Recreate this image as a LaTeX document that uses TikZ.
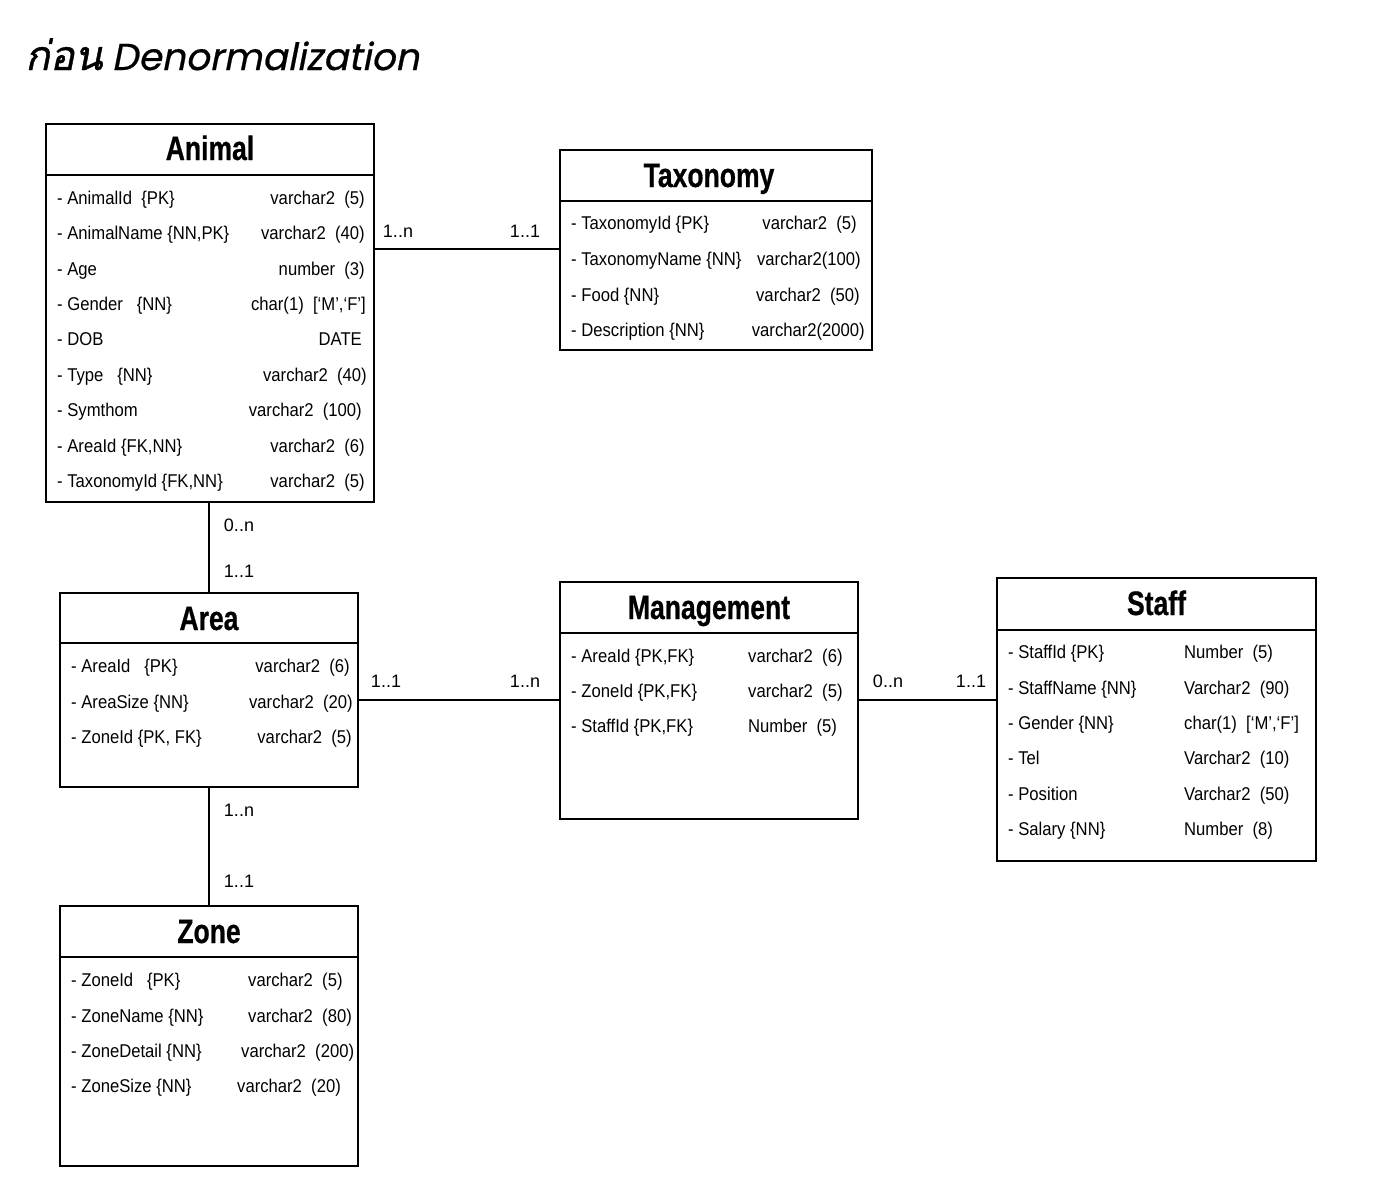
\documentclass[tikz,border=0pt]{standalone}
\usepackage{fontspec}
\setmainfont{Liberation Sans}
\newfontfamily\rowfont{Liberation Sans}[FakeStretch=0.9]
\newfontfamily\headfont{Liberation Sans Bold}[FakeStretch=0.78,FakeBold=0.6]
\newfontfamily\thaifont[Script=Thai,FakeSlant=0.2,FakeBold=1]{Loma}
\newfontfamily\popfont{Poppins}[FakeSlant=0.2,FakeBold=0.6]
\newcommand{\dsp}{\ \ }
\begin{document}
\begin{tikzpicture}[x=1pt,y=-1pt,
  tbl/.style={draw,line width=2.4pt,inner sep=0pt,outer sep=0pt,anchor=north west},
  sepline/.style={line width=2.2pt},
  conn/.style={line width=2pt},
  head/.style={font=\headfont\fontsize{34}{34}\selectfont,inner sep=0pt,anchor=base},
  lrow/.style={font=\rowfont\fontsize{18.5}{18.5}\selectfont,inner sep=0pt,anchor=base west,yshift=-6.5pt},
  rrow/.style={font=\rowfont\fontsize{18.5}{18.5}\selectfont,inner sep=0pt,anchor=base east,yshift=-6.5pt},
  wrow/.style={font=\rowfont\fontsize{18.5}{18.5}\selectfont,inner sep=0pt,anchor=base west,yshift=-6.5pt},
  mult/.style={font=\fontsize{18}{18}\selectfont,inner sep=0pt,anchor=base,yshift=-6.5pt}]
\useasboundingbox (0,0) rectangle (1374,1186);

% Title
\node[anchor=base west,inner sep=0pt] (title) at (25,70)
  {\thaifont\fontsize{41}{41}\selectfont ก่อน\hspace{9pt}\popfont\fontsize{37.5}{37.5}\selectfont Denormalization};

% Animal
\node[tbl,minimum width=328pt,minimum height=378pt] (animal) at (46,124) {};
\draw[sepline] (animal.west |- 0,175) -- (animal.east |- 0,175);
\node[head] (animalh) at (210,160) {Animal};
\node[lrow] (a1) at (57,198) {- AnimalId\ \ \{PK\}};
\node[rrow] (a1r) at (365,198) {varchar2\dsp(5)};
\node[lrow] (a2) at (57,233) {- AnimalName \{NN,PK\}};
\node[rrow] (a2r) at (365,233) {varchar2\dsp(40)};
\node[lrow] (a3) at (57,269) {- Age};
\node[rrow] (a3r) at (365,269) {number\dsp(3)};
\node[lrow] (a4) at (57,304) {- Gender\ \ \ \{NN\}};
\node[rrow] (a4r) at (366,304) {char(1)\dsp[‘M’,‘F’]};
\node[lrow] (a5) at (57,339) {- DOB};
\node[rrow] (a5r) at (362,339) {DATE};
\node[lrow] (a6) at (57,375) {- Type\ \ \ \{NN\}};
\node[rrow] (a6r) at (367,375) {varchar2\dsp(40)};
\node[lrow] (a7) at (57,410) {- Symthom};
\node[rrow] (a7r) at (362,410) {varchar2\dsp(100)};
\node[lrow] (a8) at (57,446) {- AreaId \{FK,NN\}};
\node[rrow] (a8r) at (365,446) {varchar2\dsp(6)};
\node[lrow] (a9) at (57,481) {- TaxonomyId \{FK,NN\}};
\node[rrow] (a9r) at (365,481) {varchar2\dsp(5)};

% Taxonomy
\node[tbl,minimum width=312pt,minimum height=200pt] (taxo) at (560,150) {};
\draw[sepline] (taxo.west |- 0,201) -- (taxo.east |- 0,201);
\node[head] (taxoh) at (709,187) {Taxonomy};
\node[lrow] (t1) at (571,223) {- TaxonomyId \{PK\}};
\node[rrow] (t1r) at (857,223) {varchar2\dsp(5)};
\node[lrow] (t2) at (571,259) {- TaxonomyName \{NN\}};
\node[rrow] (t2r) at (861,259) {varchar2(100)};
\node[lrow] (t3) at (571,295) {- Food \{NN\}};
\node[rrow] (t3r) at (860,295) {varchar2\dsp(50)};
\node[lrow] (t4) at (571,330) {- Description \{NN\}};
\node[rrow] (t4r) at (865,330) {varchar2(2000)};

% Area
\node[tbl,minimum width=298pt,minimum height=194pt] (area) at (60,593) {};
\draw[sepline] (area.west |- 0,643) -- (area.east |- 0,643);
\node[head] (areah) at (209,630) {Area};
\node[lrow] (r1) at (71,666) {- AreaId\ \ \ \{PK\}};
\node[rrow] (r1r) at (350,666) {varchar2\dsp(6)};
\node[lrow] (r2) at (71,702) {- AreaSize \{NN\}};
\node[rrow] (r2r) at (353,702) {varchar2\dsp(20)};
\node[lrow] (r3) at (71,737) {- ZoneId \{PK, FK\}};
\node[rrow] (r3r) at (352,737) {varchar2\dsp(5)};

% Management
\node[tbl,minimum width=298pt,minimum height=237pt] (mgmt) at (560,582) {};
\draw[sepline] (mgmt.west |- 0,633) -- (mgmt.east |- 0,633);
\node[head] (mgmth) at (709,619) {Management};
\node[lrow] (m1) at (571,656) {- AreaId \{PK,FK\}};
\node[wrow] (m1r) at (748,656) {varchar2\dsp(6)};
\node[lrow] (m2) at (571,691) {- ZoneId \{PK,FK\}};
\node[wrow] (m2r) at (748,691) {varchar2\dsp(5)};
\node[lrow] (m3) at (571,726) {- StaffId \{PK,FK\}};
\node[wrow] (m3r) at (748,726) {Number\dsp(5)};

% Staff
\node[tbl,minimum width=319pt,minimum height=283pt] (staff) at (997,578) {};
\draw[sepline] (staff.west |- 0,630) -- (staff.east |- 0,630);
\node[head] (staffh) at (1156.5,615) {Staff};
\node[lrow] (s1) at (1008,652) {- StaffId \{PK\}};
\node[wrow] (s1r) at (1184,652) {Number\dsp(5)};
\node[lrow] (s2) at (1008,688) {- StaffName \{NN\}};
\node[wrow] (s2r) at (1184,688) {Varchar2\dsp(90)};
\node[lrow] (s3) at (1008,723) {- Gender \{NN\}};
\node[wrow] (s3r) at (1184,723) {char(1)\dsp[‘M’,‘F’]};
\node[lrow] (s4) at (1008,758) {- Tel};
\node[wrow] (s4r) at (1184,758) {Varchar2\dsp(10)};
\node[lrow] (s5) at (1008,794) {- Position};
\node[wrow] (s5r) at (1184,794) {Varchar2\dsp(50)};
\node[lrow] (s6) at (1008,829) {- Salary \{NN\}};
\node[wrow] (s6r) at (1184,829) {Number\dsp(8)};

% Zone
\node[tbl,minimum width=298pt,minimum height=260pt] (zone) at (60,906) {};
\draw[sepline] (zone.west |- 0,957) -- (zone.east |- 0,957);
\node[head] (zoneh) at (209,943) {Zone};
\node[lrow] (z1) at (71,980) {- ZoneId\ \ \ \{PK\}};
\node[wrow] (z1r) at (248,980) {varchar2\dsp(5)};
\node[lrow] (z2) at (71,1016) {- ZoneName \{NN\}};
\node[wrow] (z2r) at (248,1016) {varchar2\dsp(80)};
\node[lrow] (z3) at (71,1051) {- ZoneDetail \{NN\}};
\node[wrow] (z3r) at (241,1051) {varchar2\dsp(200)};
\node[lrow] (z4) at (71,1086) {- ZoneSize \{NN\}};
\node[wrow] (z4r) at (237,1086) {varchar2\dsp(20)};

% Connectors
\draw[conn] (animal.east |- 0,249) -- (taxo.west |- 0,249);
\draw[conn] (area.north |- animal.south) -- (area.north);
\draw[conn] (area.east |- 0,700) -- (mgmt.west |- 0,700);
\draw[conn] (mgmt.east |- 0,700) -- (staff.west |- 0,700);
\draw[conn] (area.south) -- (zone.north);

% Multiplicities
\node[mult] (l1) at (398,231) {1..n};
\node[mult] (l2) at (525,231) {1..1};
\node[mult] (l3) at (239,525) {0..n};
\node[mult] (l4) at (239,571) {1..1};
\node[mult] (l5) at (386,681) {1..1};
\node[mult] (l6) at (525,681) {1..n};
\node[mult] (l7) at (888,681) {0..n};
\node[mult] (l8) at (971,681) {1..1};
\node[mult] (l9) at (239,810) {1..n};
\node[mult] (l10) at (239,881) {1..1};
\end{tikzpicture}
\end{document}
